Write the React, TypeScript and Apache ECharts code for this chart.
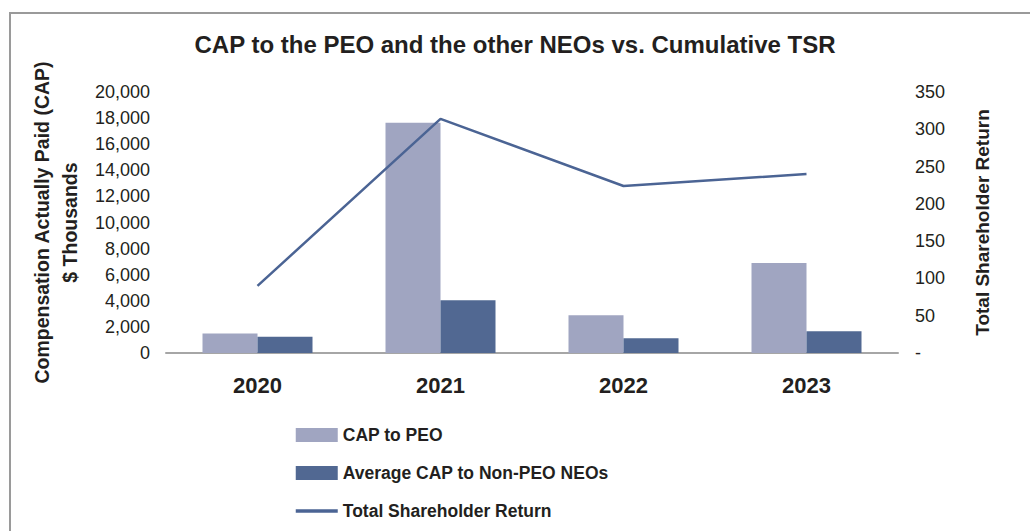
import React, { useEffect, useRef } from "react";
import * as echarts from "echarts";

const years = ["2020", "2021", "2022", "2023"];
const capPeo = [1500, 17650, 2900, 6900];
const capNonPeo = [1250, 4050, 1130, 1670];
const tsr = [90, 314, 224, 240];

const FONT = "'Liberation Sans', Arial, Helvetica, sans-serif";
const TEXT = "#231f20";

export default function App() {
  const ref = useRef<HTMLDivElement>(null);
  useEffect(() => {
    if (!ref.current) return;
    const chart = echarts.init(ref.current, undefined, { renderer: "svg" });
    chart.setOption({
      animation: false,
      backgroundColor: "#ffffff",
      textStyle: { fontFamily: FONT },
      title: {
        text: "CAP to the PEO and the other NEOs vs. Cumulative TSR",
        left: "center",
        top: 27,
        textStyle: { fontFamily: FONT, fontSize: 24, fontWeight: "bold", color: TEXT },
      },
      graphic: [
        {
          type: "polyline",
          shape: { points: [[10, 540], [10, 13], [1040, 13]] },
          style: { stroke: "#9a9a9a", lineWidth: 2, fill: "none" },
          silent: true,
        },
      ],
      legend: {
        orient: "vertical",
        left: 294,
        top: 426,
        padding: 0,
        itemWidth: 42,
        itemHeight: 14,
        itemGap: 20,
        textStyle: { fontFamily: FONT, fontSize: 17.5, fontWeight: "bold", color: TEXT },
        data: [
          { name: "CAP to PEO", icon: "rect" },
          { name: "Average CAP to Non-PEO NEOs", icon: "rect" },
          {
            name: "Total Shareholder Return",
            itemStyle: { opacity: 0 },
            lineStyle: { width: 3.5 },
          },
        ],
      },
      grid: { left: 166, right: 132, top: 92, bottom: 178 },
      xAxis: {
        type: "category",
        data: years,
        axisLine: { show: true, lineStyle: { color: "#a6a6a6", width: 2 } },
        axisTick: { show: false },
        axisLabel: {
          margin: 21,
          fontFamily: FONT,
          fontSize: 22,
          fontWeight: "bold",
          color: TEXT,
        },
      },
      yAxis: [
        {
          type: "value",
          min: 0,
          max: 20000,
          interval: 2000,
          name: "Compensation Actually Paid (CAP)\n$ Thousands",
          nameLocation: "middle",
          nameRotate: 90,
          nameGap: 82,
          nameTextStyle: {
            fontFamily: FONT,
            fontSize: 19.5,
            fontWeight: "bold",
            color: TEXT,
            lineHeight: 28,
          },
          axisLine: { show: false },
          axisTick: { show: false },
          splitLine: { show: false },
          axisLabel: {
            margin: 16,
            fontFamily: FONT,
            fontSize: 18,
            color: TEXT,
            formatter: (v: number) => v.toLocaleString("en-US"),
          },
        },
        {
          type: "value",
          min: 0,
          max: 350,
          interval: 50,
          position: "right",
          name: "Total Shareholder Return",
          nameLocation: "middle",
          nameRotate: 90,
          nameGap: 75,
          nameTextStyle: { fontFamily: FONT, fontSize: 19, fontWeight: "bold", color: TEXT },
          axisLine: { show: false },
          axisTick: { show: false },
          splitLine: { show: false },
          axisLabel: {
            margin: 17,
            fontFamily: FONT,
            fontSize: 18,
            color: TEXT,
            formatter: (v: number) => (v === 0 ? "-" : String(v)),
          },
        },
      ],
      series: [
        {
          name: "CAP to PEO",
          type: "bar",
          data: capPeo,
          barWidth: 55,
          barGap: "0%",
          itemStyle: { color: "#a0a5c1" },
        },
        {
          name: "Average CAP to Non-PEO NEOs",
          type: "bar",
          data: capNonPeo,
          barWidth: 55,
          barGap: "0%",
          itemStyle: { color: "#516892" },
        },
        {
          name: "Total Shareholder Return",
          type: "line",
          yAxisIndex: 1,
          data: tsr,
          symbol: "none",
          lineStyle: { color: "#4b6494", width: 2.5 },
          itemStyle: { color: "#4b6494" },
        },
      ],
    });
    return () => chart.dispose();
  }, []);
  return (
    <div
      ref={ref}
      style={{ position: "absolute", left: 0, top: 0, width: 1030, height: 531 }}
    />
  );
}
